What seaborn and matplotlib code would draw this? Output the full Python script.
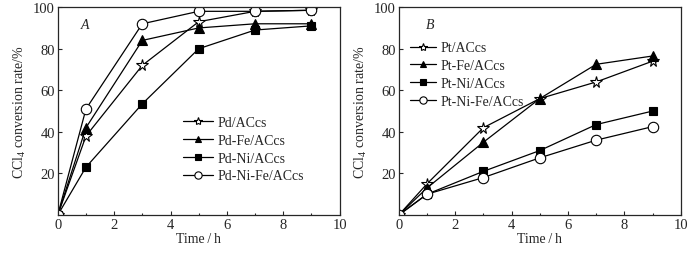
import numpy as np
import pandas as pd
import matplotlib
matplotlib.use('Agg')
import matplotlib.pyplot as plt
from matplotlib.ticker import MultipleLocator
import seaborn as sns

# time points (h)
time_h = [0, 1, 3, 5, 7, 9]

# panel A: Pd catalysts
pd_labels = ['Pd/ACcs', 'Pd-Fe/ACcs', 'Pd-Ni/ACcs', 'Pd-Ni-Fe/ACcs']
pd_only = [0, 38, 72, 93, 98, 98.5]
pd_fe = [0, 42, 84, 90, 92, 92]
pd_ni = [0, 23, 53.5, 80, 89, 91]
pd_ni_fe = [0, 51, 92, 98, 98, 98.5]

# panel B: Pt catalysts
pt_labels = ['Pt/ACcs', 'Pt-Fe/ACcs', 'Pt-Ni/ACcs', 'Pt-Ni-Fe/ACcs']
pt_only = [0, 15, 42, 56, 64, 74]
pt_fe = [0, 13, 35, 56, 72.5, 76.5]
pt_ni = [0, 10, 21, 31, 43.5, 50]
pt_ni_fe = [0, 10, 18, 27.5, 36, 42.5]

sns.set_style('ticks')
plt.rcParams['font.family'] = ['Liberation Serif', 'DejaVu Serif']
plt.rcParams['mathtext.fontset'] = 'custom'
plt.rcParams['mathtext.rm'] = 'Liberation Serif'
plt.rcParams['mathtext.it'] = 'Liberation Serif:italic'

markers = ['*', '^', 's', 'o']
faces = ['white', 'black', 'black', 'white']
sizes = [8.5, 7, 6, 7.5]
fs = 10


def make_df(labels, series):
    rows = []
    for lab, vals in zip(labels, series):
        for t, v in zip(time_h, vals):
            rows.append({'time': t, 'rate': v, 'cat': lab})
    return pd.DataFrame(rows)


fig, axes = plt.subplots(1, 2, figsize=(6.96, 2.55), dpi=100)
panels = [
    (axes[0], pd_labels, [pd_only, pd_fe, pd_ni, pd_ni_fe], 'A', 0.95),
    (axes[1], pt_labels, [pt_only, pt_fe, pt_ni, pt_ni_fe], 'B', 1.1),
]

for ax, labels, series, tag, tx in panels:
    df = make_df(labels, series)
    for i, lab in enumerate(labels):
        sub = df[df['cat'] == lab]
        sns.lineplot(data=sub, x='time', y='rate', ax=ax, color='black',
                     lw=0.9, marker=markers[i], markersize=sizes[i],
                     markerfacecolor=faces[i], markeredgecolor='black',
                     markeredgewidth=0.8, label=lab)
    ax.set_xlim(0, 10)
    ax.set_ylim(0, 100)
    ax.set_xticks([0, 2, 4, 6, 8, 10])
    ax.set_yticks([20, 40, 60, 80, 100])
    ax.xaxis.set_minor_locator(MultipleLocator(1))
    ax.tick_params(which='major', direction='in', length=3, labelsize=fs + 0.5,
                   width=0.8, pad=2)
    ax.tick_params(which='minor', direction='in', length=1.5, width=0.8)
    for s in ax.spines.values():
        s.set_visible(True)
        s.set_linewidth(0.9)
    ax.set_xlabel('Time\u2009/\u2009h', fontsize=fs, labelpad=1)
    ax.set_ylabel('CCl$_4$ conversion rate/%', fontsize=fs, labelpad=4)
    ax.text(tx, 91.5, tag, fontsize=fs, style='italic', ha='center', va='center')

axes[0].legend(loc='center left', bbox_to_anchor=(0.443, 0.317), frameon=False,
               fontsize=fs, handlelength=2.2, labelspacing=0.35, markerscale=0.7,
               borderaxespad=0, borderpad=0, handletextpad=0.3)
axes[1].legend(loc='center left', bbox_to_anchor=(0.039, 0.675), frameon=False,
               fontsize=fs, handlelength=1.9, labelspacing=0.35, markerscale=0.7,
               borderaxespad=0, borderpad=0, handletextpad=0.3)

fig.subplots_adjust(left=0.083, right=0.978, top=0.968, bottom=0.153, wspace=0.21)
fig.savefig('out.png', dpi=100)
